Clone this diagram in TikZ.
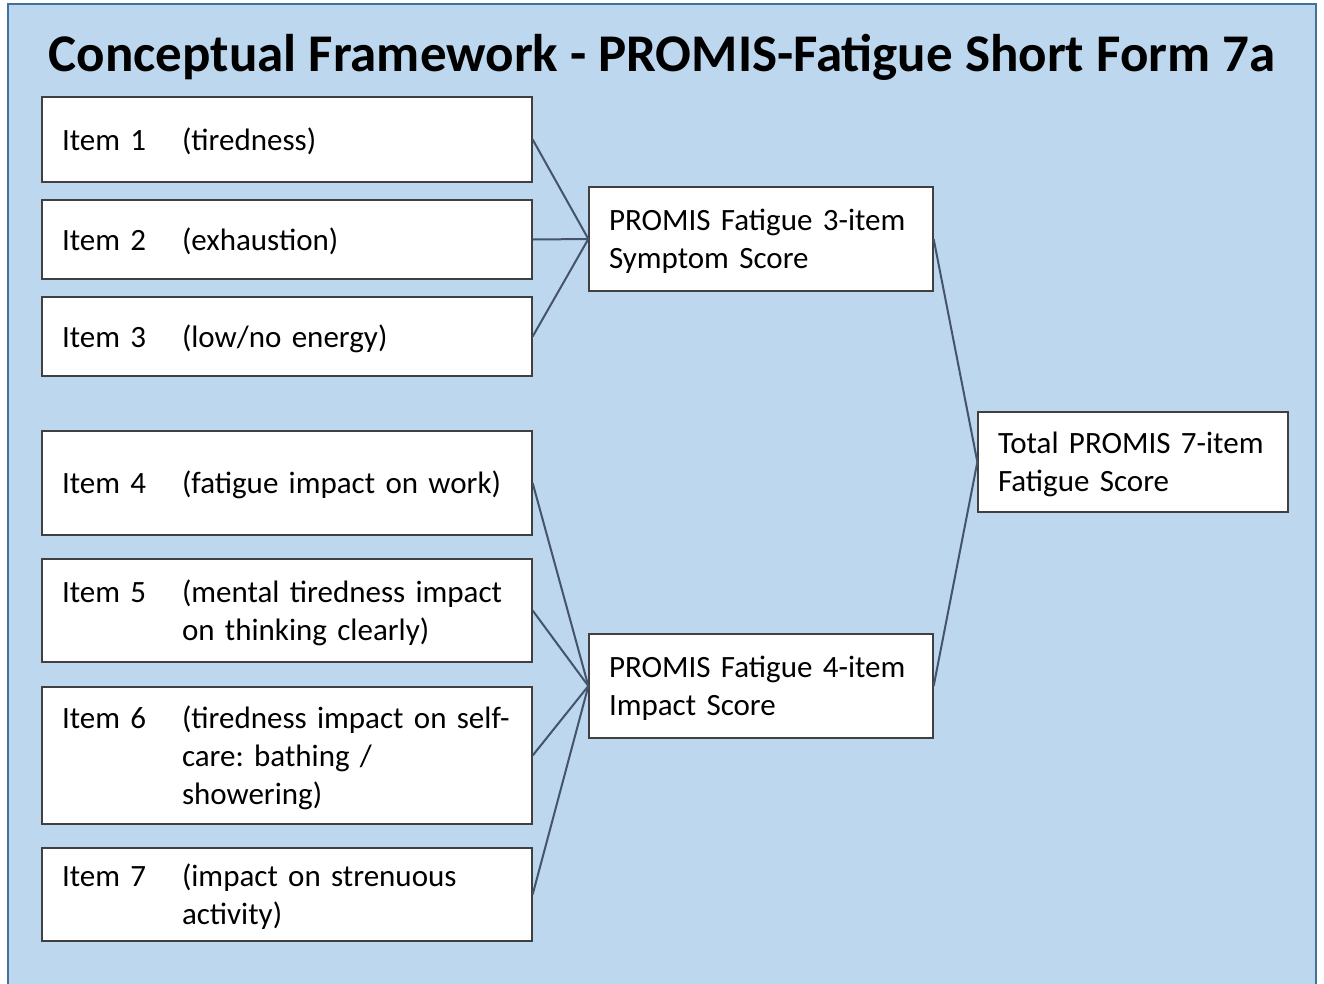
\documentclass[tikz,border=0pt]{standalone}
\usepackage{fontspec}
\setmainfont{Carlito}
\usepackage{array}
\frenchspacing
\definecolor{panelfill}{HTML}{BDD7EE}
\definecolor{panelrim}{HTML}{41719C}
\definecolor{boxrim}{HTML}{404040}
\definecolor{linkcol}{HTML}{44546A}
\tikzset{
  itembox/.style={draw=boxrim, line width=1.3pt, fill=white, inner sep=0pt,
    minimum width=490pt, text width=450pt, align=left,
    font=\fontsize{31}{38}\selectfont},
  scorebox/.style={draw=boxrim, line width=1.3pt, fill=white, inner sep=0pt,
    text width=#1, align=left, font=\fontsize{31}{38}\selectfont},
  link/.style={draw=linkcol, line width=2pt}
}
% item label column plus description column, set a touch below centre
\newcommand{\itemrow}[2]{\raisebox{-3pt}[\height][\depth]{\begin{tabular}{@{}p{120pt}@{}l@{}}#1 & #2\end{tabular}}}
\newcommand{\scoretext}[2]{\raisebox{-3pt}[\height][\depth]{\begin{tabular}{@{}l@{}}#1\\#2\end{tabular}}}
\begin{document}
\begin{tikzpicture}[x=1pt,y=-1pt]
  \useasboundingbox (0,0) rectangle (1324,983);
  \clip (0,0) rectangle (1324,983);
  % background panel
  \draw[fill=panelfill, draw=panelrim, line width=2pt] (8,4) rectangle (1316,1000);
  % heading
  \node[font=\fontsize{53}{60}\selectfont\bfseries] (title) at (662,57)
    {Conceptual Framework - PROMIS-Fatigue Short Form 7a};

  % item boxes (left column)
  \node[itembox, minimum height=85pt]  (i1) at (287,139.5) {\itemrow{Item 1}{(tiredness)}};
  \node[itembox, minimum height=79pt]  (i2) at (287,239.5) {\itemrow{Item 2}{(exhaustion)}};
  \node[itembox, minimum height=79pt]  (i3) at (287,336.5) {\itemrow{Item 3}{(low/no energy)}};
  \node[itembox, minimum height=104pt] (i4) at (287,483)   {\itemrow{Item 4}{(fatigue impact on work)}};
  \node[itembox, minimum height=103pt] (i5) at (287,610.5) {\itemrow{Item 5}{(mental tiredness impact\\ & on thinking clearly)}};
  \node[itembox, minimum height=137pt] (i6) at (287,755.5) {\itemrow{Item 6}{(tiredness impact on self-\\ & care: bathing /\\ & showering)}};
  \node[itembox, minimum height=93pt]  (i7) at (287,894.5) {\itemrow{Item 7}{(impact on strenuous\\ & activity)}};

  % subscale boxes
  \node[scorebox=304pt, minimum width=344pt, minimum height=104pt] (sym) at (761,239)
    {\scoretext{PROMIS Fatigue 3-item}{Symptom Score}};
  \node[scorebox=304pt, minimum width=344pt, minimum height=104pt] (imp) at (761,686)
    {\scoretext{PROMIS Fatigue 4-item}{Impact Score}};
  % total score box
  \node[scorebox=270pt, minimum width=310pt, minimum height=100pt] (tot) at (1133,462)
    {\scoretext{Total PROMIS 7-item}{Fatigue Score}};

  % connectors
  \foreach \k in {i1,i2,i3} \draw[link] (\k.east) -- (sym.west);
  \foreach \k in {i4,i5,i6,i7} \draw[link] (\k.east) -- (imp.west);
  \draw[link] (sym.east) -- (tot.west);
  \draw[link] (imp.east) -- (tot.west);
\end{tikzpicture}
\end{document}
